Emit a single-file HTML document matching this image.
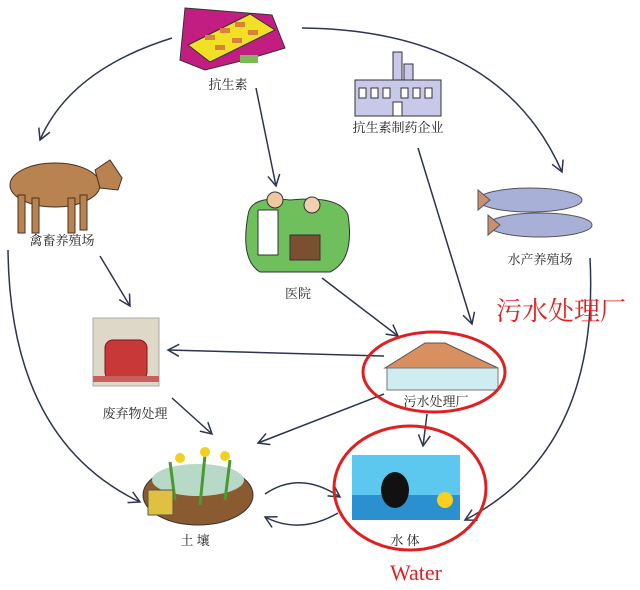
<!DOCTYPE html>
<html><head><meta charset="utf-8"><style>
html,body{margin:0;padding:0;background:#fff;}
svg{display:block;}
text{font-family:"Liberation Serif","Noto Serif CJK SC",serif;}
</style></head><body>
<svg width="640" height="590" viewBox="0 0 640 590" xmlns="http://www.w3.org/2000/svg">
<defs>
<marker id="a" markerWidth="14" markerHeight="14" refX="12" refY="7" orient="auto" markerUnits="userSpaceOnUse">
<path d="M1,1 L12,7 L1,13" fill="none" stroke="#2a3550" stroke-width="1.5"/>
</marker>
</defs>
<g fill="none" stroke="#2a3550" stroke-width="1.5" marker-end="url(#a)">
<path d="M172,38 Q70,70 40,140"/>
<path d="M302,28 Q500,30 562,172"/>
<path d="M256,88 L276,186"/>
<path d="M418,148 L472,324"/>
<path d="M100,256 L130,306"/>
<path d="M322,278 L398,336"/>
<path d="M384,356 L168,350"/>
<path d="M172,398 L212,434"/>
<path d="M384,394 L258,443"/>
<path d="M427,414 L423,446"/>
<path d="M8,250 Q10,440 140,502"/>
<path d="M590,258 Q600,450 465,520"/>
<path d="M265,494 Q300,470 340,497"/>
<path d="M338,513 Q300,535 265,517"/>
</g>
<!-- pill pack -->
<g>
<polygon points="185,8 272,15 285,48 245,60 205,70 180,60" fill="#c21e82" stroke="#333"/>
<polygon points="188,45 250,14 275,30 210,62" fill="#f2e024" stroke="#333"/>
<g fill="#d88040"><rect x="205" y="35" width="10" height="5"/><rect x="220" y="28" width="10" height="5"/><rect x="235" y="22" width="10" height="5"/><rect x="215" y="45" width="10" height="5"/><rect x="232" y="38" width="10" height="5"/><rect x="248" y="30" width="10" height="5"/></g>
<rect x="240" y="55" width="18" height="8" fill="#7ab85a"/>
</g>
<text x="228" y="89" font-size="13" text-anchor="middle" fill="#222">抗生素</text>
<!-- factory -->
<g stroke="#333" fill="#c8c8e8">
<rect x="393" y="52" width="9" height="30"/><rect x="404" y="64" width="9" height="18"/>
<rect x="355" y="80" width="86" height="36"/>
</g>
<g fill="#fff" stroke="#333"><rect x="359" y="88" width="7" height="10"/><rect x="371" y="88" width="7" height="10"/><rect x="383" y="88" width="7" height="10"/><rect x="401" y="88" width="7" height="10"/><rect x="413" y="88" width="7" height="10"/><rect x="425" y="88" width="7" height="10"/><rect x="393" y="102" width="9" height="14"/></g>
<text x="398" y="132" font-size="13" text-anchor="middle" fill="#222">抗生素制药企业</text>
<!-- cow -->
<g fill="#b88350" stroke="#4a3020">
<ellipse cx="55" cy="185" rx="45" ry="22"/>
<polygon points="95,170 110,160 122,178 118,190 100,188"/>
<rect x="18" y="195" width="7" height="38"/><rect x="32" y="198" width="7" height="35"/><rect x="68" y="198" width="7" height="35"/><rect x="80" y="195" width="7" height="35"/>
</g>
<text x="62" y="245" font-size="13" text-anchor="middle" fill="#222">禽畜养殖场</text>
<!-- doctor -->
<g stroke="#333">
<path d="M248,215 Q250,195 290,200 Q340,195 348,215 Q355,260 330,272 L260,272 Q240,260 248,215Z" fill="#6fbf5c"/>
<rect x="258" y="210" width="20" height="45" fill="#fff"/>
<circle cx="275" cy="200" r="8" fill="#f0c8a0"/>
<circle cx="312" cy="205" r="8" fill="#f0d0b0"/>
<rect x="290" y="235" width="30" height="25" fill="#7a5030"/>
</g>
<text x="298" y="298" font-size="13" text-anchor="middle" fill="#222">医院</text>
<!-- fish -->
<g fill="#a8b0d8" stroke="#555">
<ellipse cx="530" cy="200" rx="52" ry="12"/>
<ellipse cx="540" cy="225" rx="52" ry="12"/>
<polygon points="478,190 490,200 478,210" fill="#c89070"/>
<polygon points="488,215 500,225 488,235" fill="#c89070"/>
</g>
<text x="540" y="264" font-size="13" text-anchor="middle" fill="#222">水产养殖场</text>
<!-- red label -->
<text x="561" y="320" font-size="26" text-anchor="middle" fill="#e02020" font-family="'Noto Sans CJK SC',sans-serif">污水处理厂</text>
<!-- waste -->
<g>
<rect x="93" y="318" width="66" height="68" fill="#ddd8c8" stroke="#aaa"/>
<rect x="105" y="340" width="42" height="40" rx="8" fill="#c83838" stroke="#7a1818"/>
<rect x="93" y="376" width="66" height="6" fill="#c86060"/>
</g>
<text x="135" y="418" font-size="13" text-anchor="middle" fill="#222">废弃物处理</text>
<!-- sewage plant -->
<polygon points="425,343 445,343 498,368 385,368" fill="#d89060" stroke="#555"/>
<rect x="387" y="368" width="111" height="22" fill="#cfecf0" stroke="#777"/>
<ellipse cx="434" cy="372" rx="71" ry="40" fill="none" stroke="#e02020" stroke-width="3"/>
<text x="436" y="406" font-size="13" text-anchor="middle" fill="#222">污水处理厂</text>
<!-- soil -->
<ellipse cx="198" cy="495" rx="55" ry="30" fill="#8a5a30" stroke="#333"/>
<ellipse cx="198" cy="480" rx="46" ry="16" fill="#b8d8c8"/>
<g stroke="#4a9a30" stroke-width="3"><line x1="175" y1="500" x2="170" y2="462"/><line x1="200" y1="505" x2="205" y2="455"/><line x1="225" y1="500" x2="230" y2="460"/></g>
<g fill="#f0d020"><circle cx="180" cy="458" r="5"/><circle cx="205" cy="452" r="5"/><circle cx="225" cy="456" r="5"/></g>
<rect x="148" y="490" width="25" height="25" fill="#e0c040" stroke="#555"/>
<text x="195" y="545" font-size="13" text-anchor="middle" fill="#222">土 壤</text>
<!-- water -->
<rect x="352" y="455" width="108" height="65" fill="#5cc8f0"/>
<rect x="352" y="495" width="108" height="25" fill="#2a90d0"/>
<circle cx="445" cy="500" r="8" fill="#f8d020"/>
<ellipse cx="395" cy="490" rx="14" ry="18" fill="#111"/>
<ellipse cx="410" cy="488" rx="76" ry="62" fill="none" stroke="#e02020" stroke-width="3"/>
<text x="405" y="545" font-size="13" text-anchor="middle" fill="#222">水 体</text>
<text x="416" y="580" font-size="22" text-anchor="middle" fill="#e02020" font-family="'DejaVu Sans',sans-serif">Water</text>
</svg>
</body></html>
